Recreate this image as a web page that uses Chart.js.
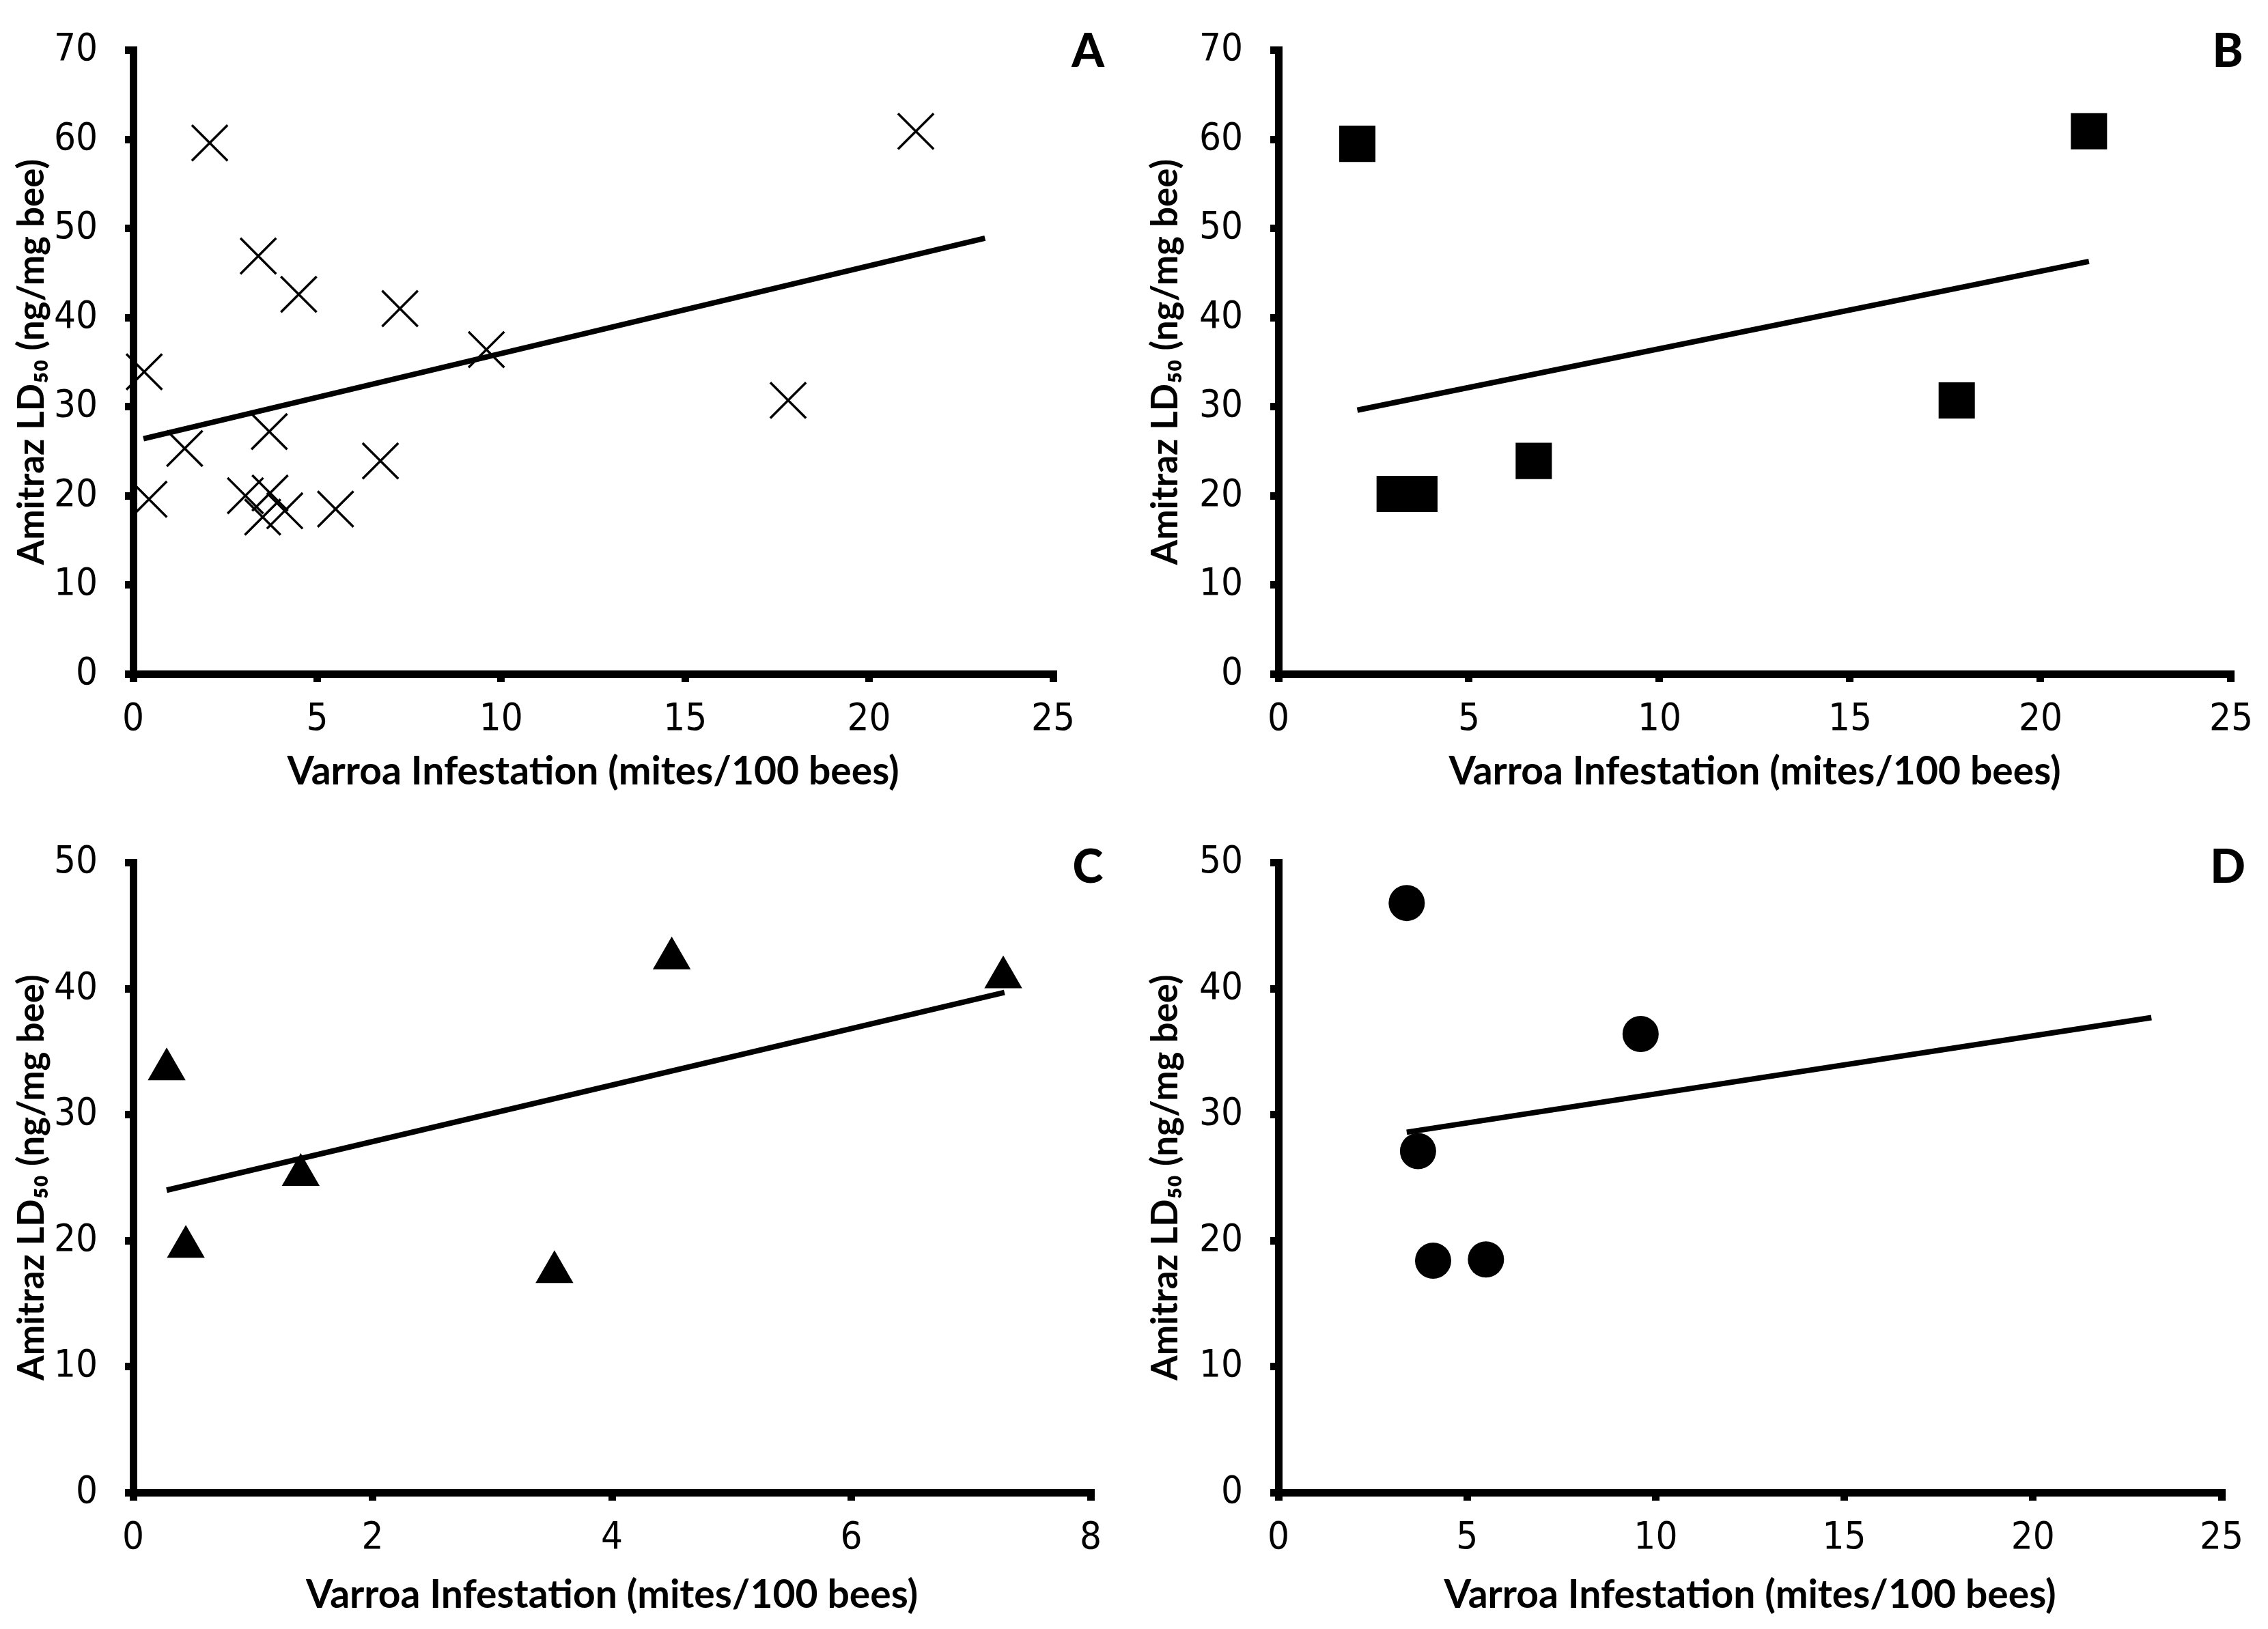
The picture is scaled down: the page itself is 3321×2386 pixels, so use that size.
<!DOCTYPE html>
<html>
<head>
<meta charset="utf-8">
<script src="https://cdn.jsdelivr.net/npm/chart.js@4.4.1/dist/chart.umd.min.js"></script>
<style>
html, body { margin: 0; padding: 0; background: #fff; }
#fig { position: relative; width: 3321px; height: 2386px; overflow: hidden; background: #fff; }
.panel { position: absolute; }
</style>
</head>
<body>
<div id="fig">
  <div class="panel" style="left:0px;top:0px;"><canvas id="chartA" width="1660" height="1190"></canvas></div>
  <div class="panel" style="left:1660px;top:0px;"><canvas id="chartB" width="1661" height="1190"></canvas></div>
  <div class="panel" style="left:0px;top:1190px;"><canvas id="chartC" width="1660" height="1196"></canvas></div>
  <div class="panel" style="left:1660px;top:1190px;"><canvas id="chartD" width="1661" height="1196"></canvas></div>
</div>
<script>
// data (mites/100 bees vs amitraz LD50 ng/mg bee)
var infestA = [0.3, 0.43, 1.4, 2.08, 3.05, 3.4, 3.52, 3.7, 3.72, 4.12, 4.5, 5.5, 6.72, 7.25, 9.6, 17.8, 21.27];
var ld50A   = [33.9, 19.6, 25.3, 59.6, 20.0, 46.9, 17.6, 27.2, 20.3, 18.3, 42.6, 18.5, 23.9, 41.0, 36.4, 30.7, 60.9];
var trendAx = [0.28, 23.15];
var trendAy = [26.4, 48.9];

var infestB = [2.07, 3.05, 3.7, 6.7, 17.8, 21.27];
var ld50B   = [59.5, 20.2, 20.2, 23.9, 30.7, 60.9];
var trendBx = [2.07, 21.27];
var trendBy = [29.6, 46.3];

var infestC = [0.28, 0.44, 1.4, 3.52, 4.5, 7.27];
var ld50C   = [33.6, 19.5, 25.2, 17.5, 42.4, 40.9];
var trendCx = [0.28, 7.28];
var trendCy = [24.0, 39.7];

var infestD = [3.4, 3.7, 4.1, 5.5, 9.6];
var ld50D   = [46.8, 27.1, 18.4, 18.5, 36.4];
var trendDx = [3.4, 23.14];
var trendDy = [28.6, 37.7];

var xTitle = 'Varroa Infestation (mites/100 bees)';
var yTitle = 'Amitraz LD\u2085\u2080 (ng/mg bee)';

var tickFont = "'Liberation Sans Narrow', 'DejaVu Sans Condensed', 'Liberation Sans', sans-serif";
var titleFont = "Lato, 'DejaVu Sans', sans-serif";

function pairs(xs, ys) {
    var out = [];
    for (var i = 0; i < xs.length; i++) out.push({x: xs[i], y: ys[i]});
    return out;
}

// draws the panel letter in the top right corner
var panelLetter = {
    id: 'panelLetter',
    afterDraw: function(chart, args, opts) {
        var ctx = chart.ctx;
        ctx.save();
        ctx.font = '900 68px ' + titleFont;
        ctx.fillStyle = '#000';
        ctx.textAlign = 'center';
        ctx.textBaseline = 'middle';
        ctx.fillText(opts.text, opts.x, opts.y);
        ctx.restore();
    }
};

function buildPanel(id, p) {
    var ctx = document.getElementById(id).getContext('2d');
    var w = ctx.canvas.width, h = ctx.canvas.height;
    return new Chart(ctx, {
        type: 'scatter',
        data: {
            datasets: [{
                data: pairs(p.xs, p.ys),
                showLine: false,
                pointStyle: p.style,
                pointRadius: p.radius,
                pointBorderWidth: p.style === 'crossRot' ? 3.5 : 0,
                pointBackgroundColor: '#000',
                pointBorderColor: '#000',
                clip: false
            }, {
                data: pairs(p.tx, p.ty),
                showLine: true,
                borderColor: '#000',
                borderWidth: 8,
                pointRadius: 0,
                clip: false
            }]
        },
        options: {
            responsive: false,
            devicePixelRatio: 1,
            animation: false,
            events: [],
            layout: {
                padding: {left: 0, top: p.top, right: w - p.right, bottom: 0}
            },
            plugins: {
                legend: {display: false},
                tooltip: {enabled: false},
                panelLetter: {text: p.letter, x: p.letterX, y: p.letterY}
            },
            scales: {
                x: {
                    type: 'linear',
                    min: 0,
                    max: p.xMax,
                    ticks: {stepSize: p.xStep, padding: 22, color: '#000', font: {family: tickFont, size: 56}},
                    grid: {drawOnChartArea: false, drawTicks: true, tickLength: 12, lineWidth: 11, color: '#000'},
                    border: {display: true, width: 11, color: '#000'},
                    title: {
                        display: true, text: xTitle, color: '#000',
                        font: {family: titleFont, size: 57, weight: 'bold'},
                        padding: {top: 0, bottom: p.xTitlePad}
                    },
                    afterFit: function(s) { s.height = h - p.bottom; }
                },
                y: {
                    type: 'linear',
                    min: 0,
                    max: p.yMax,
                    ticks: {stepSize: 10, padding: 40, color: '#000', font: {family: tickFont, size: 56}},
                    grid: {drawOnChartArea: false, drawTicks: true, tickLength: 12, lineWidth: 11, color: '#000'},
                    border: {display: true, width: 11, color: '#000'},
                    title: {
                        display: true, text: yTitle, color: '#000',
                        font: {family: titleFont, size: 53, weight: 'bold'},
                        padding: {top: 15, bottom: 0}
                    },
                    afterFit: function(s) { s.width = p.left; }
                }
            }
        },
        plugins: [panelLetter]
    });
}

buildPanel('chartA', {
    xs: infestA, ys: ld50A, tx: trendAx, ty: trendAy,
    style: 'crossRot', radius: 37, xMax: 25, xStep: 5, yMax: 70,
    left: 195, right: 1542, top: 55, bottom: 987, xTitlePad: 25,
    letter: 'A', letterX: 1593, letterY: 76
});
buildPanel('chartB', {
    xs: infestB, ys: ld50B, tx: trendBx, ty: trendBy,
    style: 'rect', radius: 37.5, xMax: 25, xStep: 5, yMax: 70,
    left: 212, right: 1608, top: 55, bottom: 987, xTitlePad: 25,
    letter: 'B', letterX: 1602, letterY: 76
});
buildPanel('chartC', {
    xs: infestC, ys: ld50C, tx: trendCx, ty: trendCy,
    style: 'triangle', radius: 32, xMax: 8, xStep: 2, yMax: 50,
    left: 195, right: 1597, top: 64, bottom: 996, xTitlePad: 15,
    letter: 'C', letterX: 1593, letterY: 81
});
buildPanel('chartD', {
    xs: infestD, ys: ld50D, tx: trendDx, ty: trendDy,
    style: 'circle', radius: 26.5, xMax: 25, xStep: 5, yMax: 50,
    left: 212, right: 1593, top: 64, bottom: 996, xTitlePad: 15,
    letter: 'D', letterX: 1602, letterY: 81
});
</script>
</body>
</html>
